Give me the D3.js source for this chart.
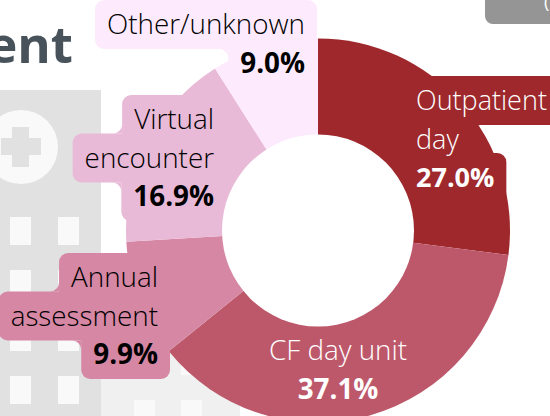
<!DOCTYPE html>
<html>
<head>
<meta charset="utf-8">
<script src="https://cdn.jsdelivr.net/npm/d3@7"></script>
<style>
  html, body { margin: 0; padding: 0; background: #fff; overflow: hidden; }
  text { font-family: "Open Sans", sans-serif; }
</style>
</head>
<body>
<script>
//chart values
var categories = ["Outpatient day", "CF day unit", "Annual assessment", "Virtual encounter", "Other/unknown"];
var shares = [27.0, 37.1, 9.9, 16.9, 9.0];
var colors = ["#9e282c", "#bd586b", "#d587a4", "#e9bad7", "#fdebfd"];

//label lines and label styling
var labelLines = [["Outpatient", "day"], ["CF day unit"], ["Annual", "assessment"], ["Virtual", "encounter"], ["Other/unknown"]];
var labelAnchors = ["start", "middle", "end", "end", "end"];
var labelX = [416, 338, 158, 214, 305];
var labelFirstBaseline = [110, 360, 287, 129, 34];
var labelSizes = [27, 27.8, 27.8, 27.8, 27.8];
var labelText = ["#ffffff", "#ffffff", "#000000", "#000000", "#000000"];
var labelBoxed = [true, false, true, true, true];

var width = 550,
  height = 416;

var svg = d3.select("body")
  .append("svg")
  .attr("width", width)
  .attr("height", height)
  .style("display", "block");

//faded hospital buildings behind the chart
var bg = svg.append("g");
bg.append("rect").attr("x", 0).attr("y", 90).attr("width", 101).attr("height", 326).attr("fill", "#e1e1e1");
bg.append("rect").attr("x", 101).attr("y", 340).attr("width", 139).attr("height", 76).attr("fill", "#f0f0f0");
bg.append("circle").attr("cx", 21).attr("cy", 147).attr("r", 37).attr("fill", "#f9f9f9");
bg.append("path").attr("d", "M12 127h17v11h12v17h-12v12h-17v-12h-11v-17h11z").attr("fill", "#e1e1e1");

var windowRows = [217, 270, 323, 376];
var windowCols = [10, 58];
windowRows.forEach(function(y) {
  windowCols.forEach(function(x) {
    bg.append("rect").attr("x", x).attr("y", y).attr("width", 21).attr("height", 28).attr("fill", "#f9f9f9");
  });
});
[347, 400].forEach(function(y) {
  [134, 181].forEach(function(x) {
    bg.append("rect").attr("x", x).attr("y", y).attr("width", 21).attr("height", 28).attr("fill", "#f9f9f9");
  });
});

//clipped title and the button in the corner
svg.append("text")
  .attr("x", 73)
  .attr("y", 63)
  .attr("text-anchor", "end")
  .attr("font-size", 51)
  .attr("font-weight", 700)
  .attr("fill", "#48525b")
  .text("ent");

svg.append("rect")
  .attr("x", 485)
  .attr("y", -20)
  .attr("width", 85)
  .attr("height", 44)
  .attr("rx", 8)
  .attr("fill", "#959595");

svg.append("text")
  .attr("x", 544)
  .attr("y", 8)
  .attr("font-size", 18)
  .attr("fill", "#ffffff")
  .text("(");

//donut, the hole is painted later so the label boxes do not poke into it
var cx = 318,
  cy = 230.5,
  innerR = 96,
  outerR = 192;

var pie = d3.pie().sort(null).value(function(d) { return d; });
var arc = d3.arc().innerRadius(0).outerRadius(outerR);

var donut = svg.append("g").attr("transform", "translate(" + cx + "," + cy + ")");
donut.selectAll("path")
  .data(pie(shares))
  .enter()
  .append("path")
  .attr("d", arc)
  .attr("fill", function(d, i) { return colors[i]; });

var boxLayer = svg.append("g");

svg.append("circle")
  .attr("cx", cx)
  .attr("cy", cy)
  .attr("r", innerR)
  .attr("fill", "#ffffff");

var textLayer = svg.append("g");

//labels, each line gets its own rounded box in the slice colour
var lineHeight = 38.5,
  pad = 12,
  corner = 9;

//little curved piece filling the inner corner between two boxes
function fillet(x, y, dx, dy, r, fill) {
  var sweep = dx * dy > 0 ? 0 : 1;
  boxLayer.append("path")
    .attr("d", "M" + x + "," + y + "L" + (x + dx * r) + "," + y +
      "A" + r + "," + r + " 0 0 " + sweep + " " + x + "," + (y + dy * r) + "Z")
    .attr("fill", fill);
}

categories.forEach(function(name, i) {
  var rows = labelLines[i].concat([d3.format(".1f")(shares[i]) + "%"]);
  var boxes = [];

  rows.forEach(function(row, r) {
    var isValue = r === rows.length - 1;
    var baseline = labelFirstBaseline[i] + r * lineHeight;
    var t = textLayer.append("text")
      .attr("x", labelX[i])
      .attr("y", baseline)
      .attr("text-anchor", labelAnchors[i])
      .attr("font-size", labelSizes[i])
      .attr("font-weight", isValue ? 700 : 300)
      .attr("fill", labelText[i])
      .text(row);

    var b = t.node().getBBox();
    boxes.push({ left: b.x - pad, right: b.x + b.width + pad, top: baseline - 34, bottom: baseline + 15 });
  });

  if (!labelBoxed[i]) return;

  boxes.forEach(function(b, r) {
    boxLayer.append("rect")
      .attr("x", b.left)
      .attr("y", b.top)
      .attr("width", b.right - b.left)
      .attr("height", b.bottom - b.top)
      .attr("rx", corner)
      .attr("fill", colors[i]);

    var next = boxes[r + 1];
    if (!next) return;

    var leftGap = Math.abs(b.left - next.left),
      rightGap = Math.abs(b.right - next.right);
    if (leftGap > 2) {
      if (b.left > next.left) fillet(b.left, next.top, -1, -1, Math.min(corner, leftGap), colors[i]);
      else fillet(next.left, b.bottom, -1, 1, Math.min(corner, leftGap), colors[i]);
    }
    if (rightGap > 2) {
      if (b.right < next.right) fillet(b.right, next.top, 1, -1, Math.min(corner, rightGap), colors[i]);
      else fillet(next.right, b.bottom, 1, 1, Math.min(corner, rightGap), colors[i]);
    }
  });
});
</script>
</body>
</html>
